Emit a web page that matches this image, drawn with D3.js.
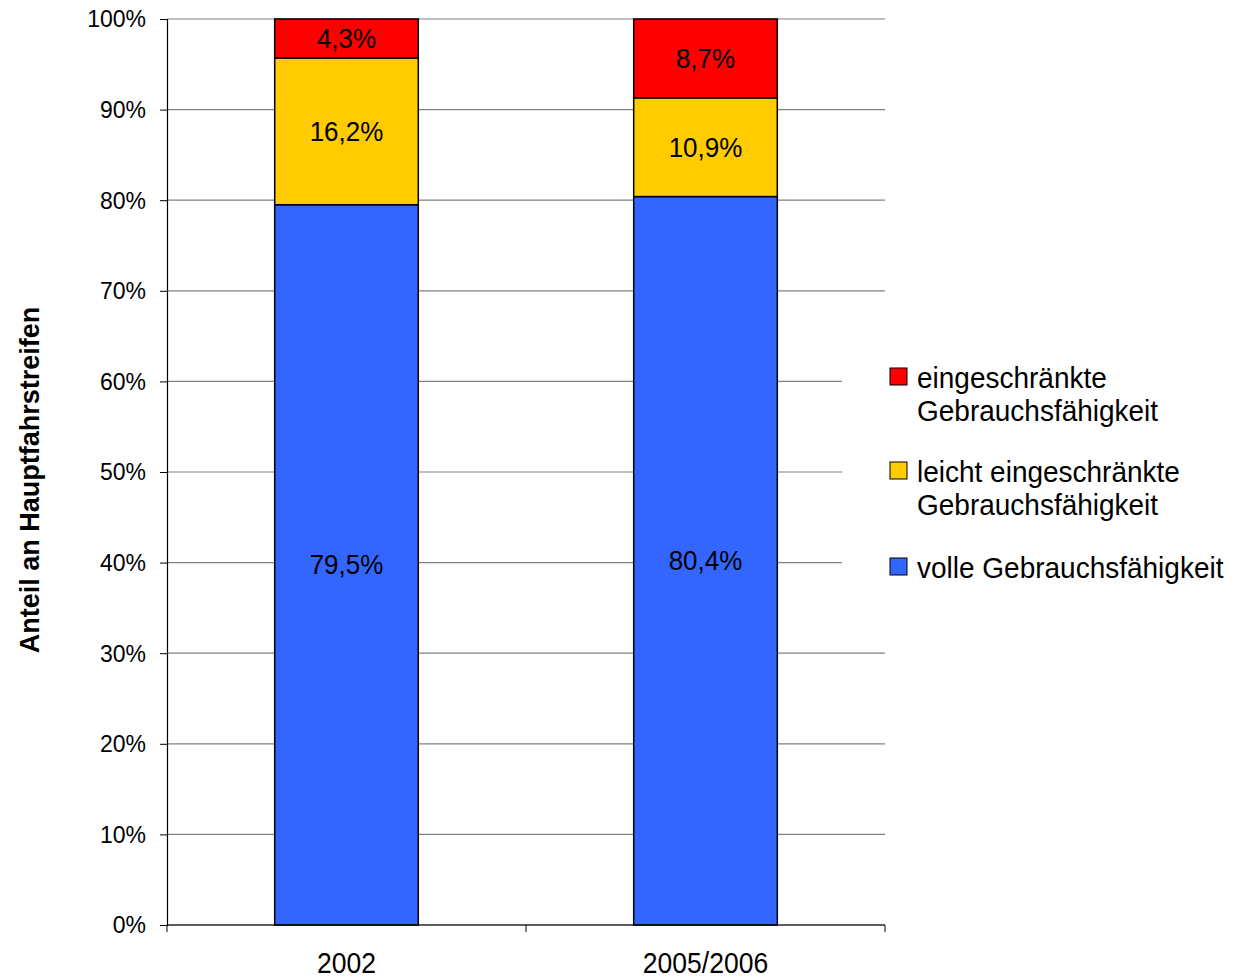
<!DOCTYPE html>
<html><head><meta charset="utf-8">
<script src="https://cdn.jsdelivr.net/npm/d3@7"></script>
<style>body{margin:0;background:#fff;font-family:"Liberation Sans",Arial,sans-serif;}</style>
</head><body>
<svg id="c" width="1236" height="978"></svg>
<script>
const categories = ["2002", "2005/2006"];
const seriesNames = ["volle Gebrauchsfähigkeit", "leicht eingeschränkte Gebrauchsfähigkeit", "eingeschränkte Gebrauchsfähigkeit"];
const volle = [79.5, 80.4];
const leicht = [16.2, 10.9];
const eingeschraenkt = [4.3, 8.7];
const yTicks = [0,10,20,30,40,50,60,70,80,90,100];
const colors = ["#3366FF", "#FFCC00", "#FF0000"];
const legendLines = [["eingeschränkte","Gebrauchsfähigkeit"],["leicht eingeschränkte","Gebrauchsfähigkeit"],["volle Gebrauchsfähigkeit"]];

const SY = 1.08; // slight vertical stretch seen in the reference text
const svg = d3.select("#c");
const L=167, R=885, T=19, B=925;
const x = d3.scaleBand().domain(categories).range([L,R]).paddingInner(0.6).paddingOuter(0.3);
const xb = d3.scaleBand().domain(categories).range([L,R]);
const y = d3.scaleLinear().domain([0,100]).range([B,T]);

function txt(px, py, s, size, anchor, extra){
  const t = svg.append("text").attr("transform",`translate(${px},${py}) scale(1,${SY})`)
    .attr("text-anchor",anchor||"start").attr("font-size",size).attr("fill","#000").text(s);
  if (extra) extra(t);
  return t;
}

// gridlines
svg.append("g").selectAll("line").data(yTicks).join("line")
  .attr("x1",L).attr("x2",R).attr("y1",d=>y(d)).attr("y2",d=>y(d))
  .attr("stroke","#808080").attr("stroke-width",1.2);

// legend background covering gridlines
svg.append("rect").attr("x",842).attr("y",350).attr("width",394).attr("height",240).attr("fill","#fff");

const data = categories.map((c,i)=>({cat:c, v:[volle[i], leicht[i], eingeschraenkt[i]]}));
data.forEach(d=>{
  let acc=0;
  d.v.forEach((v,j)=>{
    const y0=acc, y1=acc+v; acc=y1;
    svg.append("rect").attr("x",x(d.cat)).attr("width",x.bandwidth())
      .attr("y",y(y1)).attr("height",y(y0)-y(y1))
      .attr("fill",colors[j]).attr("stroke","#000").attr("stroke-width",1.5);
    txt(x(d.cat)+x.bandwidth()/2, (y(y0)+y(y1))/2, d3.format(".1f")(v).replace(".",",")+"%", 26, "middle",
      t=>t.attr("dominant-baseline","central"));
  });
});

// y axis
const ya = svg.append("g").attr("transform",`translate(${L},0)`)
  .call(d3.axisLeft(y).tickValues(yTicks).tickFormat(d=>d+"%").tickSize(7).tickPadding(14));
ya.select(".domain").attr("stroke","#000").attr("stroke-width",1.2);
ya.selectAll(".tick line").attr("stroke","#000");
ya.selectAll("text").attr("font-size",23).attr("font-family","Liberation Sans, Arial, sans-serif")
  .attr("fill","#000").attr("transform",`scale(1,${SY})`);

// x axis
svg.append("line").attr("x1",L).attr("x2",R).attr("y1",B).attr("y2",B).attr("stroke","#000").attr("stroke-width",1.2);
const bounds = categories.map(c=>xb(c)).concat([R]);
svg.append("g").selectAll("line").data(bounds).join("line")
  .attr("x1",d=>d).attr("x2",d=>d).attr("y1",B).attr("y2",B+7).attr("stroke","#000");
categories.forEach(c=>txt(xb(c)+xb.bandwidth()/2, 973, c, 26.5, "middle"));

// y title
svg.append("text").attr("transform","translate(39,480) rotate(-90) scale(1.0,1.05)")
  .attr("text-anchor","middle").attr("font-size",27).attr("font-weight","bold").text("Anteil an Hauptfahrstreifen");

// legend
const legTop = [368, 462, 558];
legendLines.forEach((lines,i)=>{
  const ci = 2-i;
  svg.append("rect").attr("x",890).attr("y",legTop[i]).attr("width",17).attr("height",17)
    .attr("fill",colors[ci]).attr("stroke","#000").attr("stroke-width",1);
  lines.forEach((t,k)=>{
    txt(917, legTop[i]+20+k*33, t, 28, "start");
  });
});
</script>
</body></html>
